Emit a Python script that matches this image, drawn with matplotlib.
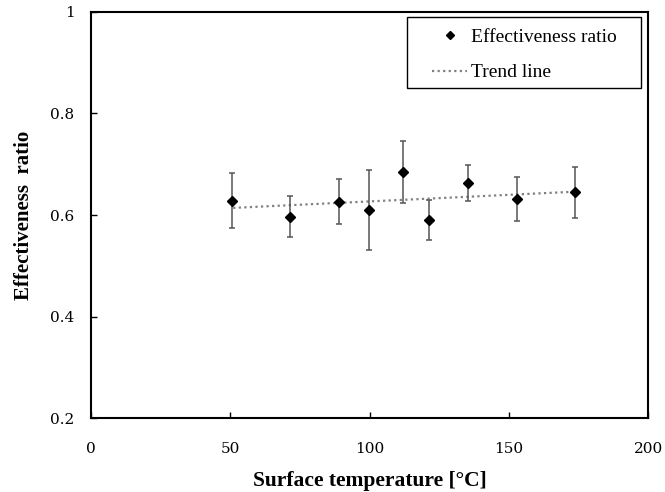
import matplotlib
matplotlib.use("Agg")
import matplotlib.pyplot as plt
from matplotlib.patches import Rectangle

# data
temp = [50.5, 71.3, 89.0, 99.8, 112.1, 121.2, 135.1, 152.9, 173.7]
ratio = [0.628, 0.597, 0.626, 0.610, 0.685, 0.590, 0.663, 0.632, 0.645]
err = [0.054, 0.040, 0.044, 0.078, 0.061, 0.040, 0.035, 0.043, 0.050]

trend_x = [51, 174]
trend_y = [0.614, 0.646]

plt.rcParams['font.family'] = ['Liberation Serif', 'DejaVu Serif']

fig = plt.figure(figsize=(6.65, 4.92), dpi=100)
ax = fig.add_axes([0.137, 0.150, 0.838, 0.826])

ax.errorbar(temp, ratio, yerr=err, fmt='none', ecolor='#555555', elinewidth=1.1,
            capsize=2.5, capthick=1.1, zorder=2)
ax.plot(temp, ratio, linestyle='none', marker='D', markersize=5.2, color='black',
        label='Effectiveness ratio', zorder=3)
ax.plot(trend_x, trend_y, linestyle=(0, (1, 1.5)), color='#808080', linewidth=1.6,
        label='Trend line', zorder=1)

ax.set_xlim(0, 200)
ax.set_ylim(0.2, 1.0)
ax.set_xticks([0, 50, 100, 150, 200])
ax.set_yticks([0.2, 0.4, 0.6, 0.8, 1.0])
ax.set_yticklabels(['0.2', '0.4', '0.6', '0.8', '1'])
ax.tick_params(direction='in', length=4, width=1)
ax.tick_params(axis='x', pad=17)
ax.tick_params(axis='y', pad=12)
for lab in ax.get_xticklabels() + ax.get_yticklabels():
    lab.set_family('DejaVu Serif')
    lab.set_fontsize(11)
for s in ax.spines.values():
    s.set_linewidth(1.5)

ax.set_xlabel('Surface temperature [°C]', fontsize=15.5, fontweight='bold', labelpad=11)
ax.set_ylabel('Effectiveness  ratio', fontsize=15, fontweight='bold', labelpad=12)

# legend box drawn by hand, the entries without frame
ax.add_patch(Rectangle((0.567, 0.813), 0.419, 0.175, transform=ax.transAxes,
                       facecolor='white', edgecolor='black', linewidth=1.0, zorder=4))
leg = ax.legend(loc='upper left', bbox_to_anchor=(0.612, 0.960), fontsize=14,
                frameon=False, handlelength=1.8, borderpad=0, borderaxespad=0,
                labelspacing=0.93, handletextpad=0.2, markerscale=0.8)
leg.set_zorder(5)

fig.savefig('out.png', dpi=100)
